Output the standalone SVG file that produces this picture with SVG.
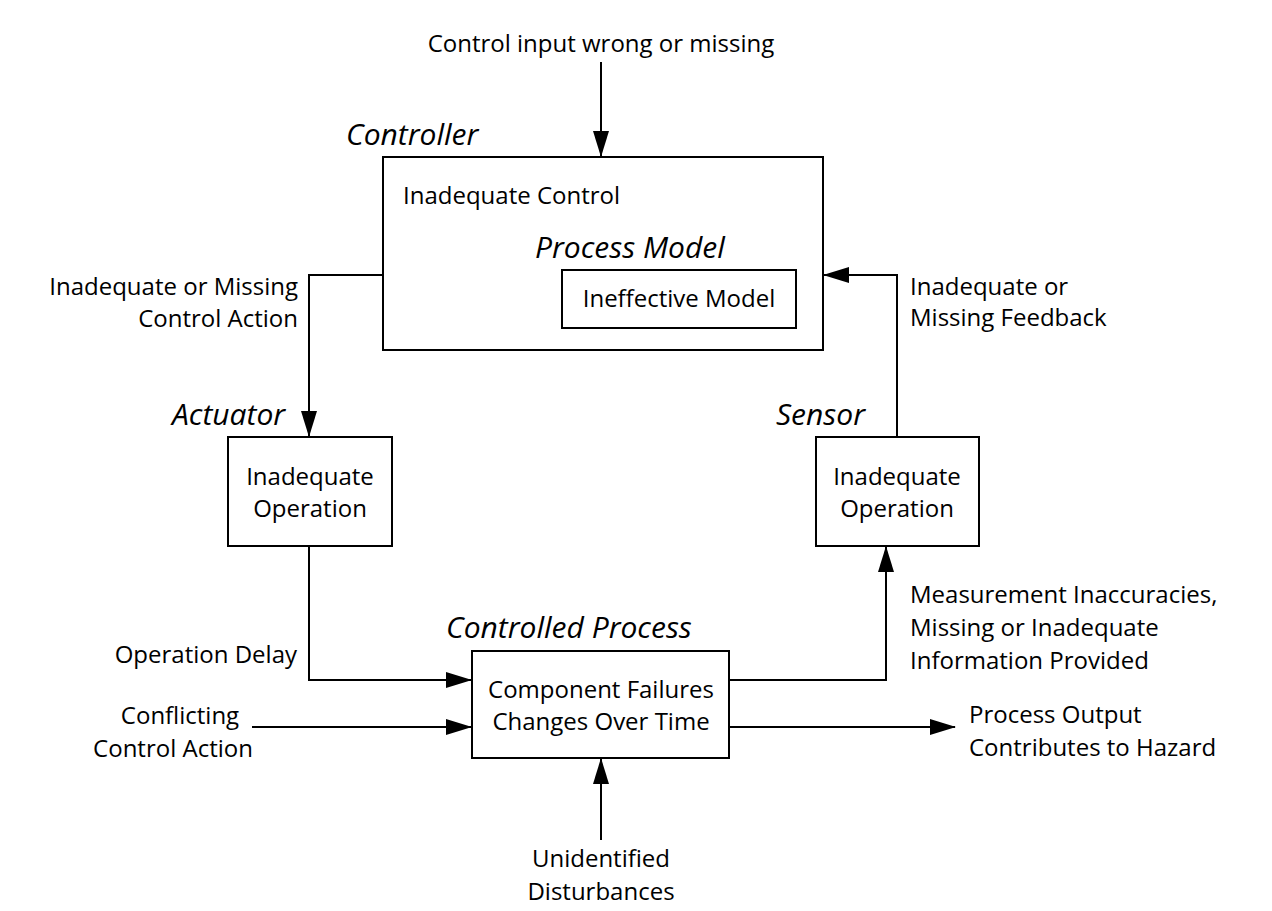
<svg xmlns="http://www.w3.org/2000/svg" width="1272" height="911" viewBox="0 0 1272 911">
<style>
.box{fill:#fff;stroke:#000;stroke-width:2}
.ln{fill:none;stroke:#000;stroke-width:2}
text{font-family:"Open Sans","Liberation Sans",sans-serif;font-size:24px;fill:#000}
.h{font-style:italic;font-size:30px}
.m{text-anchor:middle}
.e{text-anchor:end}
</style>
<defs>
<marker id="av" markerWidth="26" markerHeight="16" refX="25" refY="8" orient="auto" markerUnits="userSpaceOnUse">
<path d="M0,0 L26,8 L0,16 Z" fill="#000"/>
</marker>
</defs>
<g id="connectors">
<path class="ln" d="M601,62 L601,156" marker-end="url(#av)"/>
<path class="ln" d="M383,275 L309,275 L309,436" marker-end="url(#av)"/>
<path class="ln" d="M897,437 L897,275 L824,275" marker-end="url(#av)"/>
<path class="ln" d="M309,546 L309,680 L471,680" marker-end="url(#av)"/>
<path class="ln" d="M252,727 L471,727" marker-end="url(#av)"/>
<path class="ln" d="M729,680 L886,680 L886,547" marker-end="url(#av)"/>
<path class="ln" d="M729,727 L955,727" marker-end="url(#av)"/>
<path class="ln" d="M601,840 L601,759" marker-end="url(#av)"/>
</g>
<g id="controller">
<text class="h" x="346" y="145">Controller</text>
<rect class="box" x="383" y="157" width="440" height="193"/>
<text x="403" y="204">Inadequate Control</text>
</g>
<g id="process-model">
<text class="h" x="535" y="258">Process Model</text>
<rect class="box" x="562" y="270" width="234" height="58"/>
<text class="m" x="679" y="307">Ineffective Model</text>
</g>
<g id="actuator">
<text class="h" x="172" y="425">Actuator</text>
<rect class="box" x="228" y="437" width="164" height="109"/>
<text class="m" x="310" y="485">Inadequate</text>
<text class="m" x="310" y="517">Operation</text>
</g>
<g id="sensor">
<text class="h" x="776" y="425">Sensor</text>
<rect class="box" x="816" y="437" width="163" height="109"/>
<text class="m" x="897" y="485">Inadequate</text>
<text class="m" x="897" y="517">Operation</text>
</g>
<g id="controlled-process">
<text class="h" x="446" y="638">Controlled Process</text>
<rect class="box" x="472" y="651" width="257" height="107"/>
<text class="m" x="601" y="698">Component Failures</text>
<text class="m" x="601" y="730">Changes Over Time</text>
</g>
<g id="labels">
<text class="m" x="601" y="52">Control input wrong or missing</text>
<text class="e" x="298" y="295">Inadequate or Missing</text>
<text class="e" x="298" y="327">Control Action</text>
<text x="910" y="295">Inadequate or</text>
<text x="910" y="326">Missing Feedback</text>
<text class="e" x="297" y="663">Operation Delay</text>
<text class="m" x="180" y="724">Conflicting</text>
<text class="m" x="173" y="757">Control Action</text>
<text x="910" y="603">Measurement Inaccuracies,</text>
<text x="910" y="636">Missing or Inadequate</text>
<text x="910" y="669">Information Provided</text>
<text x="969" y="723">Process Output</text>
<text x="969" y="756">Contributes to Hazard</text>
<text class="m" x="601" y="867">Unidentified</text>
<text class="m" x="601" y="900">Disturbances</text>
</g>
</svg>
